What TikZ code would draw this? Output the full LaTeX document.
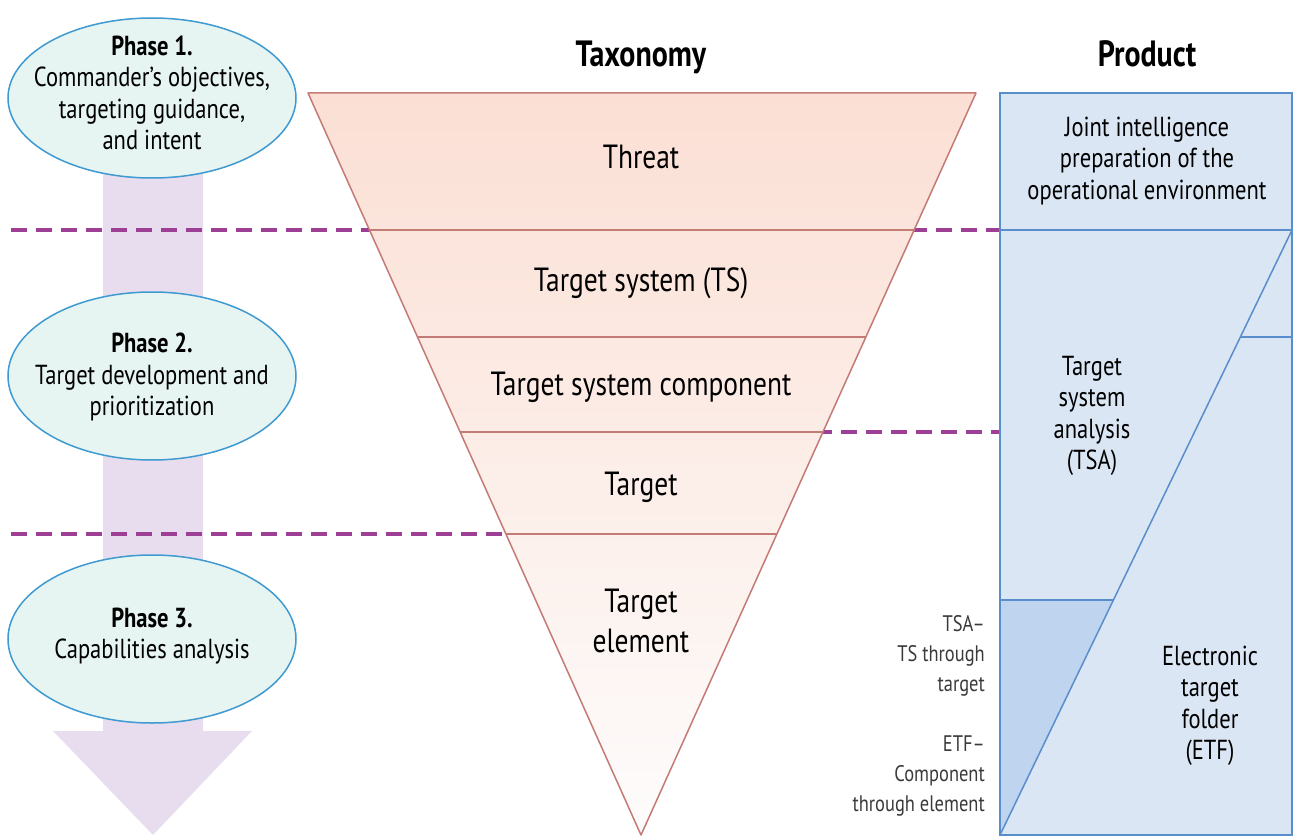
\documentclass[tikz,border=0pt]{standalone}
\usepackage{fontspec}
\setmainfont{PT Sans}[FakeStretch=0.82]
\usepackage{tikz}
\usepackage{xcolor}

\definecolor{phasefill}{HTML}{E6F4F2}
\definecolor{phaseline}{HTML}{3E9AD0}
\definecolor{arrowfill}{HTML}{E7DDEE}
\definecolor{cutcol}{HTML}{9E3F96}
\definecolor{taxline}{HTML}{C47A75}
\definecolor{taxtop}{HTML}{FBDFD4}
\definecolor{taxmid}{HTML}{FCEAE3}
\definecolor{taxbot}{HTML}{FDFCFC}
\definecolor{prodfill}{HTML}{DBE6F4}
\definecolor{proddark}{HTML}{BFD4EE}
\definecolor{prodline}{HTML}{5A8DCB}
\definecolor{sidegray}{HTML}{3A3A3A}

\newcommand\hdfont{\fontsize{36.5}{42}\selectfont\bfseries}
\newcommand\taxfont{\fontsize{33.5}{40}\selectfont}
\newcommand\txtfont{\fontsize{27.5}{31.5}\selectfont}
\newcommand\sidefont{\fontsize{22.5}{30}\selectfont}

\begin{document}
\begin{tikzpicture}[x=1pt, y=-1pt, inner sep=0pt,
    phase/.style={draw=phaseline, fill=phasefill, line width=1.5pt},
    cut/.style={draw=cutcol, line width=3.5pt, dash pattern=on 16pt off 9pt},
    band/.style={draw=taxline, line width=1.5pt},
    prod/.style={draw=prodline, line width=1.5pt},
    tax/.style={font=\taxfont, align=center},
    txt/.style={font=\txtfont, align=center},
    side/.style={font=\sidefont, align=right, text=sidegray, anchor=east}]
    \useasboundingbox (0,0) rectangle (1295,837);

    % big arrow behind the phases
    \fill[arrowfill] (103,170) -- (203,170) -- (203,731) -- (252,731)
      -- (153,835) -- (53,731) -- (103,731) -- cycle;

    % phase boundaries
    \draw[cut] (11,230) -- (1000,230);
    \draw[cut] (641,432) -- (1000,432);
    \draw[cut] (11,534) -- (641,534);

    \draw[phase] (152,98) ellipse [x radius=144, y radius=80];
    \draw[phase] (152,376) ellipse [x radius=144, y radius=84];
    \draw[phase] (152,639) ellipse [x radius=144, y radius=84];
    \node[txt] (ph1) at (152,93) {\textbf{Phase 1.}\\Commander’s objectives,\\targeting guidance,\\and intent};
    \node[txt] (ph2) at (152,377) {\textbf{Phase 2.}\\Target development and\\prioritization};
    \node[txt] (ph3) at (152,636) {\textbf{Phase 3.}\\Capabilities analysis};

    % taxonomy funnel
    \coordinate (tl) at (308,93);
    \coordinate (tr) at (976,93);
    \coordinate (tip) at (641,835);
    \shade[top color=taxtop, middle color=taxmid, bottom color=taxbot] (tl) -- (tr) -- (tip) -- cycle;
    \begin{scope}
      \clip (tl) -- (tr) -- (tip) -- cycle;
      \foreach \y in {230,337,432,534}
        \draw[band] (300,\y) -- (990,\y);
    \end{scope}
    \draw[band, line join=round] (tl) -- (tr) -- (tip) -- cycle;

    \node[font=\hdfont, anchor=base] (taxhd) at (641,67) {Taxonomy};
    \node[tax, anchor=base] (threat) at (641,169) {Threat};
    \node[tax, anchor=base] (tsys) at (641,291) {Target system (TS)};
    \node[tax, anchor=base] (tcomp) at (641,395) {Target system component};
    \node[tax, anchor=base] (tgt) at (641,495) {Target};
    \node[tax] (telem) at (641,621) {Target\\element};

    % product column
    \fill[prodfill] (1000,93) rectangle (1292,835);
    \fill[proddark] (1000,600) -- (1113,600) -- (1000,835) -- cycle;
    \draw[prod] (1000,230) -- (1292,230);
    \draw[prod] (1292,230) -- (1000,835);
    \draw[prod] (1240,337) -- (1292,337);
    \draw[prod] (1000,600) -- (1113,600);
    \draw[prod, line width=2pt] (1000,93) rectangle (1292,835);

    \node[font=\hdfont, anchor=base] (prodhd) at (1147,67) {Product};
    \node[txt] (jipoe) at (1147,161) {Joint intelligence\\preparation of the\\operational environment};
    \node[txt] (tsa) at (1092,416) {Target\\system\\analysis\\(TSA)};
    \node[txt] (etf) at (1210,706) {Electronic\\target\\folder\\(ETF)};

    \node[side] (tsanote) at (985,656) {TSA–\\TS through\\target};
    \node[side] (etfnote) at (985,776) {ETF–\\Component\\through element};
\end{tikzpicture}
\end{document}
